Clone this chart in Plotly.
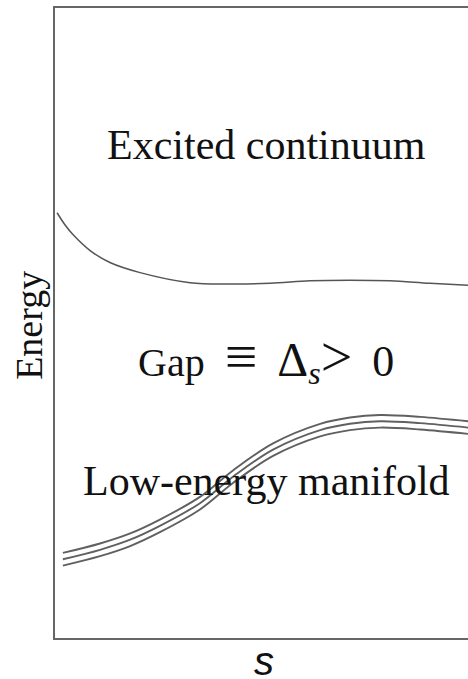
import plotly.graph_objects as go

# Data (s and Energy in arbitrary units 0-100)
upper_s = [0.5, 2.4, 4.4, 8.5, 13.3, 20.6, 32.7, 42.4, 52.1, 61.7, 71.4, 81.1, 90.8, 100]
upper_E = [67.5, 65.6, 64.0, 61.5, 59.6, 58.0, 56.4, 56.2, 56.3, 56.7, 56.8, 56.7, 56.3, 56.0]

low_s = [1.9, 10.9, 18.2, 25.4, 35.1, 43.1, 52.8, 64.2, 71.4, 78.7, 88.4, 100]
low_E = [12.5, 14.0, 15.6, 17.8, 21.4, 25.6, 29.9, 33.0, 34.0, 34.4, 34.1, 33.4]
band_offsets = [1.0, 0.0, -1.0]

labels = {
    "excited": "Excited continuum",
    "gap": ("Gap\u2002<span style='font-size:58px'>\u2261</span>\u2002"
            "<span style='font-size:48px'>\u0394</span>"
            "<sub><span style='font-size:32px'><i>s</i></span></sub>"
            "<span style='font-size:56px'>&gt;</span>\u2002"
            "<span style='font-size:44px'>0</span>"),
    "low": "Low-energy manifold",
    "ylabel": "Energy",
    "xlabel": "s",
}

fig = go.Figure()
fig.add_trace(go.Scatter(x=upper_s, y=upper_E, mode="lines",
                         line=dict(color="#555555", width=1.5, shape="spline"),
                         hoverinfo="skip"))
for off in band_offsets:
    fig.add_trace(go.Scatter(x=low_s, y=[v + off for v in low_E], mode="lines",
                             line=dict(color="#606060", width=1.9, shape="spline"),
                             hoverinfo="skip"))

serif = "Liberation Serif, Times New Roman, serif"
fig.add_annotation(x=51.1, y=78.3, xref="x", yref="y", text=labels["excited"],
                   xanchor="center", yanchor="middle",
                   showarrow=False, font=dict(family=serif, size=42, color="#111"))
fig.add_annotation(x=51.1, y=44.5, xref="x", yref="y", text=labels["gap"],
                   xanchor="center", yanchor="middle",
                   showarrow=False, font=dict(family=serif, size=40, color="#111"))
fig.add_annotation(x=51.1, y=24.9, xref="x", yref="y", text=labels["low"],
                   xanchor="center", yanchor="middle",
                   showarrow=False, font=dict(family=serif, size=42, color="#111"))
fig.add_annotation(x=-0.063, y=0.497, xref="paper", yref="paper", text=labels["ylabel"],
                   xanchor="center", yanchor="middle",
                   textangle=-90, showarrow=False,
                   font=dict(family=serif, size=38, color="#111"))
fig.add_annotation(x=0.506, y=-0.0365, xref="paper", yref="paper", text=labels["xlabel"],
                   xanchor="center", yanchor="middle",
                   showarrow=False,
                   font=dict(family="Liberation Sans, Arial, sans-serif", size=40,
                             color="#111", style="italic"))

fig.update_layout(
    width=468, height=679,
    margin=dict(l=55, r=0, t=8, b=41),
    paper_bgcolor="white", plot_bgcolor="white",
    showlegend=False,
    xaxis=dict(range=[0, 100], showgrid=False, zeroline=False, showticklabels=False,
               ticks="", showline=True, linecolor="#666666", linewidth=2, mirror=True,
               fixedrange=True),
    yaxis=dict(range=[0, 100], showgrid=False, zeroline=False, showticklabels=False,
               ticks="", showline=True, linecolor="#666666", linewidth=2, mirror=False,
               fixedrange=True),
)

fig.write_html("out.html")
